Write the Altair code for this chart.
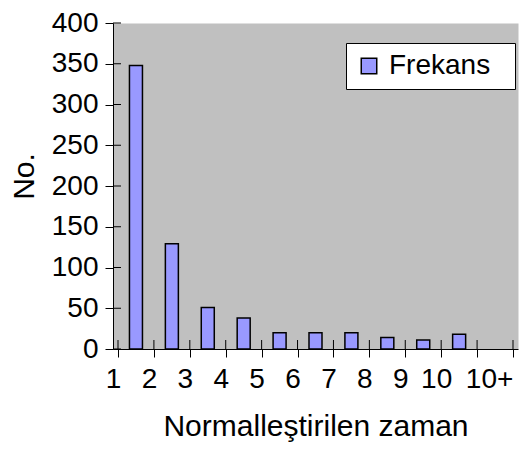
import altair as alt
import pandas as pd

labels = ["1", "2", "3", "4", "5", "6", "7", "8", "9", "10", "10+"]
freq = [348, 129, 51, 38, 20, 20, 20, 14, 11, 18]
y_ticks = [0, 50, 100, 150, 200, 250, 300, 350, 400]
series = "Frekans"

FONT = "Liberation Sans"
FS = 28
TFS = 30

bars_df = pd.DataFrame({
    "pos": [i + 0.5 for i in range(len(freq))],
    "freq": freq,
    "series": [series] * len(freq),
})
xt_df = pd.DataFrame({"pos": list(range(len(labels) + 1))})
yt_df = pd.DataFrame({"freq": y_ticks})

label_js = "[" + ",".join("'" + l + "'" for l in labels) + "]"
last = len(labels) - 1
xscale = alt.Scale(domain=[0, len(labels)], nice=False, zero=False)
yscale = alt.Scale(domain=[0, 400], nice=False)

x_axis = alt.Axis(values=list(range(len(labels) + 1)),
                  labelExpr=label_js + "[datum.value] || ''",
                  labelOffset={"condition": {"test": "datum.value == %d" % last, "value": 12}, "value": -5},
                  title="Normalleştirilen zaman",
                  titleY=86, titleBaseline="alphabetic", titleFontSize=TFS,
                  labelPadding=8, labelFlush=False, labelOverlap=False)
y_axis = alt.Axis(values=y_ticks, title="No.",
                  titleX=-89, titleY=153, titleAngle=270, titleFontSize=TFS,
                  titleAlign="center", titleBaseline="middle",
                  labelPadding=7)

bars = alt.Chart(bars_df).mark_bar(size=13, stroke="black", strokeWidth=1.5, opacity=1).encode(
    x=alt.X("pos:Q", scale=xscale, axis=x_axis),
    y=alt.Y("freq:Q", scale=yscale, axis=y_axis),
    color=alt.Color("series:N", scale=alt.Scale(range=["#9999FF"]),
                    legend=alt.Legend(title=None, orient="none", legendX=233, legendY=20,
                                      fillColor="white", strokeColor="black",
                                      padding=9, symbolType="square", symbolSize=240,
                                      symbolStrokeColor="black", symbolStrokeWidth=1.5,
                                      symbolOpacity=1,
                                      labelFont=FONT, labelFontSize=FS, labelColor="black",
                                      labelOffset=6,
                                      labelExpr="datum.label + '\u00a0\u00a0\u200b'")),
)

ytick_in = alt.Chart(yt_df).mark_rule(color="black", strokeWidth=1).encode(
    y=alt.Y("freq:Q", scale=yscale, axis=y_axis),
    x=alt.value(0), x2=alt.value(8),
)
xtick_in = alt.Chart(xt_df).mark_rule(color="black", strokeWidth=1).encode(
    x=alt.X("pos:Q", scale=xscale, axis=x_axis),
    y=alt.value(326), y2=alt.value(317),
)

chart = alt.layer(bars, ytick_in, xtick_in).properties(
    width=405, height=326,
    autosize=alt.AutoSizeParams(type="none"),
    padding={"left": 105, "top": 15, "right": 1, "bottom": 93},
    background="white",
).configure_view(
    fill="#C0C0C0", stroke="transparent",
).configure_axis(
    domainColor="black", tickColor="black", tickSize=8, grid=False,
    labelFont=FONT, labelFontSize=FS, labelColor="black",
    titleFont=FONT, titleColor="black", titleFontWeight="normal",
)

chart.save("out.html", embed_options={"renderer": "svg", "actions": False})
